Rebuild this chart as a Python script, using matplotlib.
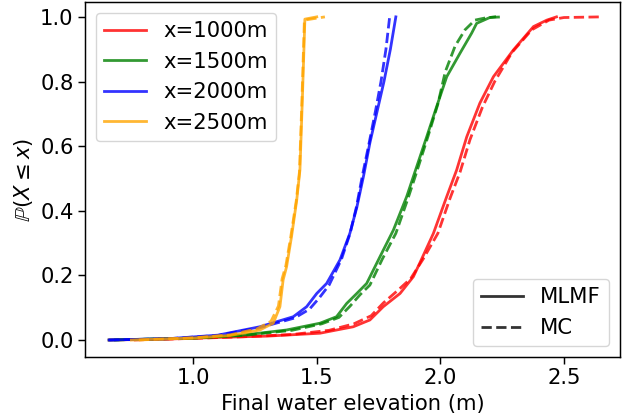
import matplotlib
matplotlib.use("Agg")
import matplotlib.pyplot as plt
from matplotlib.lines import Line2D

labels = ["x=1000m", "x=1500m", "x=2000m", "x=2500m"]
colors = ["red", "green", "blue", "orange"]

# MLMF estimates (solid)
x_mlmf_1000 = [0.66, 0.9, 1.1, 1.3, 1.513, 1.648, 1.715, 1.769, 1.837, 1.891, 1.918, 1.972, 2.026, 2.066, 2.107, 2.16, 2.215, 2.296, 2.377, 2.431, 2.47]
p_mlmf_1000 = [0.0, 0.003, 0.008, 0.012, 0.021, 0.041, 0.062, 0.103, 0.144, 0.196, 0.24, 0.33, 0.444, 0.526, 0.629, 0.733, 0.815, 0.898, 0.97, 0.99, 1.0]
x_mlmf_1500 = [0.66, 1.0, 1.2, 1.378, 1.513, 1.58, 1.621, 1.662, 1.702, 1.756, 1.81, 1.864, 1.895, 1.945, 1.985, 2.026, 2.08, 2.127, 2.147, 2.2, 2.22]
p_mlmf_1500 = [0.0, 0.006, 0.015, 0.031, 0.052, 0.072, 0.113, 0.144, 0.175, 0.258, 0.34, 0.444, 0.515, 0.629, 0.722, 0.815, 0.888, 0.95, 0.98, 0.998, 1.0]
x_mlmf_2000 = [0.66, 0.9, 1.1, 1.27, 1.405, 1.459, 1.5, 1.54, 1.594, 1.634, 1.662, 1.69, 1.715, 1.745, 1.772, 1.798, 1.82]
p_mlmf_2000 = [0.0, 0.004, 0.015, 0.041, 0.072, 0.103, 0.144, 0.175, 0.248, 0.33, 0.41, 0.51, 0.61, 0.71, 0.8, 0.9, 1.0]
x_mlmf_2500 = [0.75, 1.0, 1.15, 1.27, 1.324, 1.351, 1.364, 1.378, 1.398, 1.419, 1.432, 1.442, 1.452, 1.50]
p_mlmf_2500 = [0.0, 0.006, 0.014, 0.031, 0.052, 0.103, 0.186, 0.227, 0.32, 0.433, 0.526, 0.75, 0.993, 1.0]

# plain Monte Carlo (dashed)
x_mc_1000 = [0.76, 1.0, 1.2, 1.4, 1.55, 1.65, 1.72, 1.77, 1.83, 1.88, 1.93, 1.99, 2.04, 2.08, 2.12, 2.17, 2.22, 2.29, 2.37, 2.44, 2.5, 2.65]
p_mc_1000 = [0.0, 0.005, 0.01, 0.017, 0.03, 0.05, 0.075, 0.115, 0.155, 0.19, 0.25, 0.33, 0.44, 0.52, 0.62, 0.72, 0.80, 0.89, 0.96, 0.99, 0.998, 1.0]
x_mc_1500 = [0.68, 1.0, 1.2, 1.4, 1.52, 1.59, 1.635, 1.675, 1.715, 1.765, 1.82, 1.87, 1.90, 1.95, 1.99, 2.02, 2.06, 2.10, 2.14, 2.19, 2.255]
p_mc_1500 = [0.0, 0.006, 0.014, 0.03, 0.05, 0.07, 0.105, 0.14, 0.17, 0.25, 0.33, 0.44, 0.51, 0.63, 0.73, 0.83, 0.91, 0.96, 0.99, 0.998, 1.0]
x_mc_2000 = [0.66, 0.9, 1.1, 1.27, 1.41, 1.47, 1.51, 1.55, 1.60, 1.635, 1.66, 1.685, 1.712, 1.738, 1.76, 1.78, 1.795]
p_mc_2000 = [0.0, 0.004, 0.014, 0.038, 0.068, 0.095, 0.13, 0.17, 0.25, 0.33, 0.41, 0.51, 0.61, 0.71, 0.8, 0.9, 1.0]
x_mc_2500 = [0.78, 1.0, 1.15, 1.26, 1.315, 1.345, 1.36, 1.375, 1.395, 1.417, 1.43, 1.44, 1.45, 1.533]
p_mc_2500 = [0.0, 0.007, 0.016, 0.035, 0.058, 0.105, 0.19, 0.23, 0.32, 0.43, 0.52, 0.74, 0.99, 1.0]

mlmf = [(x_mlmf_1000, p_mlmf_1000), (x_mlmf_1500, p_mlmf_1500),
        (x_mlmf_2000, p_mlmf_2000), (x_mlmf_2500, p_mlmf_2500)]
mc = [(x_mc_1000, p_mc_1000), (x_mc_1500, p_mc_1500),
      (x_mc_2000, p_mc_2000), (x_mc_2500, p_mc_2500)]

plt.rcParams["font.size"] = 15.2
plt.rcParams["axes.linewidth"] = 1.06
plt.rcParams["xtick.major.size"] = 4.7
plt.rcParams["ytick.major.size"] = 4.7
plt.rcParams["xtick.major.width"] = 1.06
plt.rcParams["ytick.major.width"] = 1.06

fig = plt.figure(figsize=(6.22, 4.2), dpi=100)
ax = fig.add_axes([0.1367, 0.15, 0.8601, 0.8452])

lw = 2.0
for (xs, ps), (xd, pd), c, lab in zip(mlmf, mc, colors, labels):
    ax.plot(xs, ps, color=c, lw=lw, alpha=0.8, label=lab)
    ax.plot(xd, pd, color=c, lw=lw, alpha=0.8, ls="--")

ax.set_xlim(0.5625, 2.727)
ax.set_ylim(-0.0526, 1.046)
ax.set_xticks([1.0, 1.5, 2.0, 2.5])
ax.set_xlabel("Final water elevation (m)")
ax.set_ylabel(r"$\mathbb{P}(X \leq x)$")

leg1 = ax.legend(loc="upper left")
style_handles = [Line2D([], [], color="k", lw=lw, alpha=0.8),
                 Line2D([], [], color="k", lw=lw, alpha=0.8, ls="--")]
ax.legend(style_handles, ["MLMF", "MC"], loc="lower right")
ax.add_artist(leg1)

fig.savefig("out.png", dpi=100)
